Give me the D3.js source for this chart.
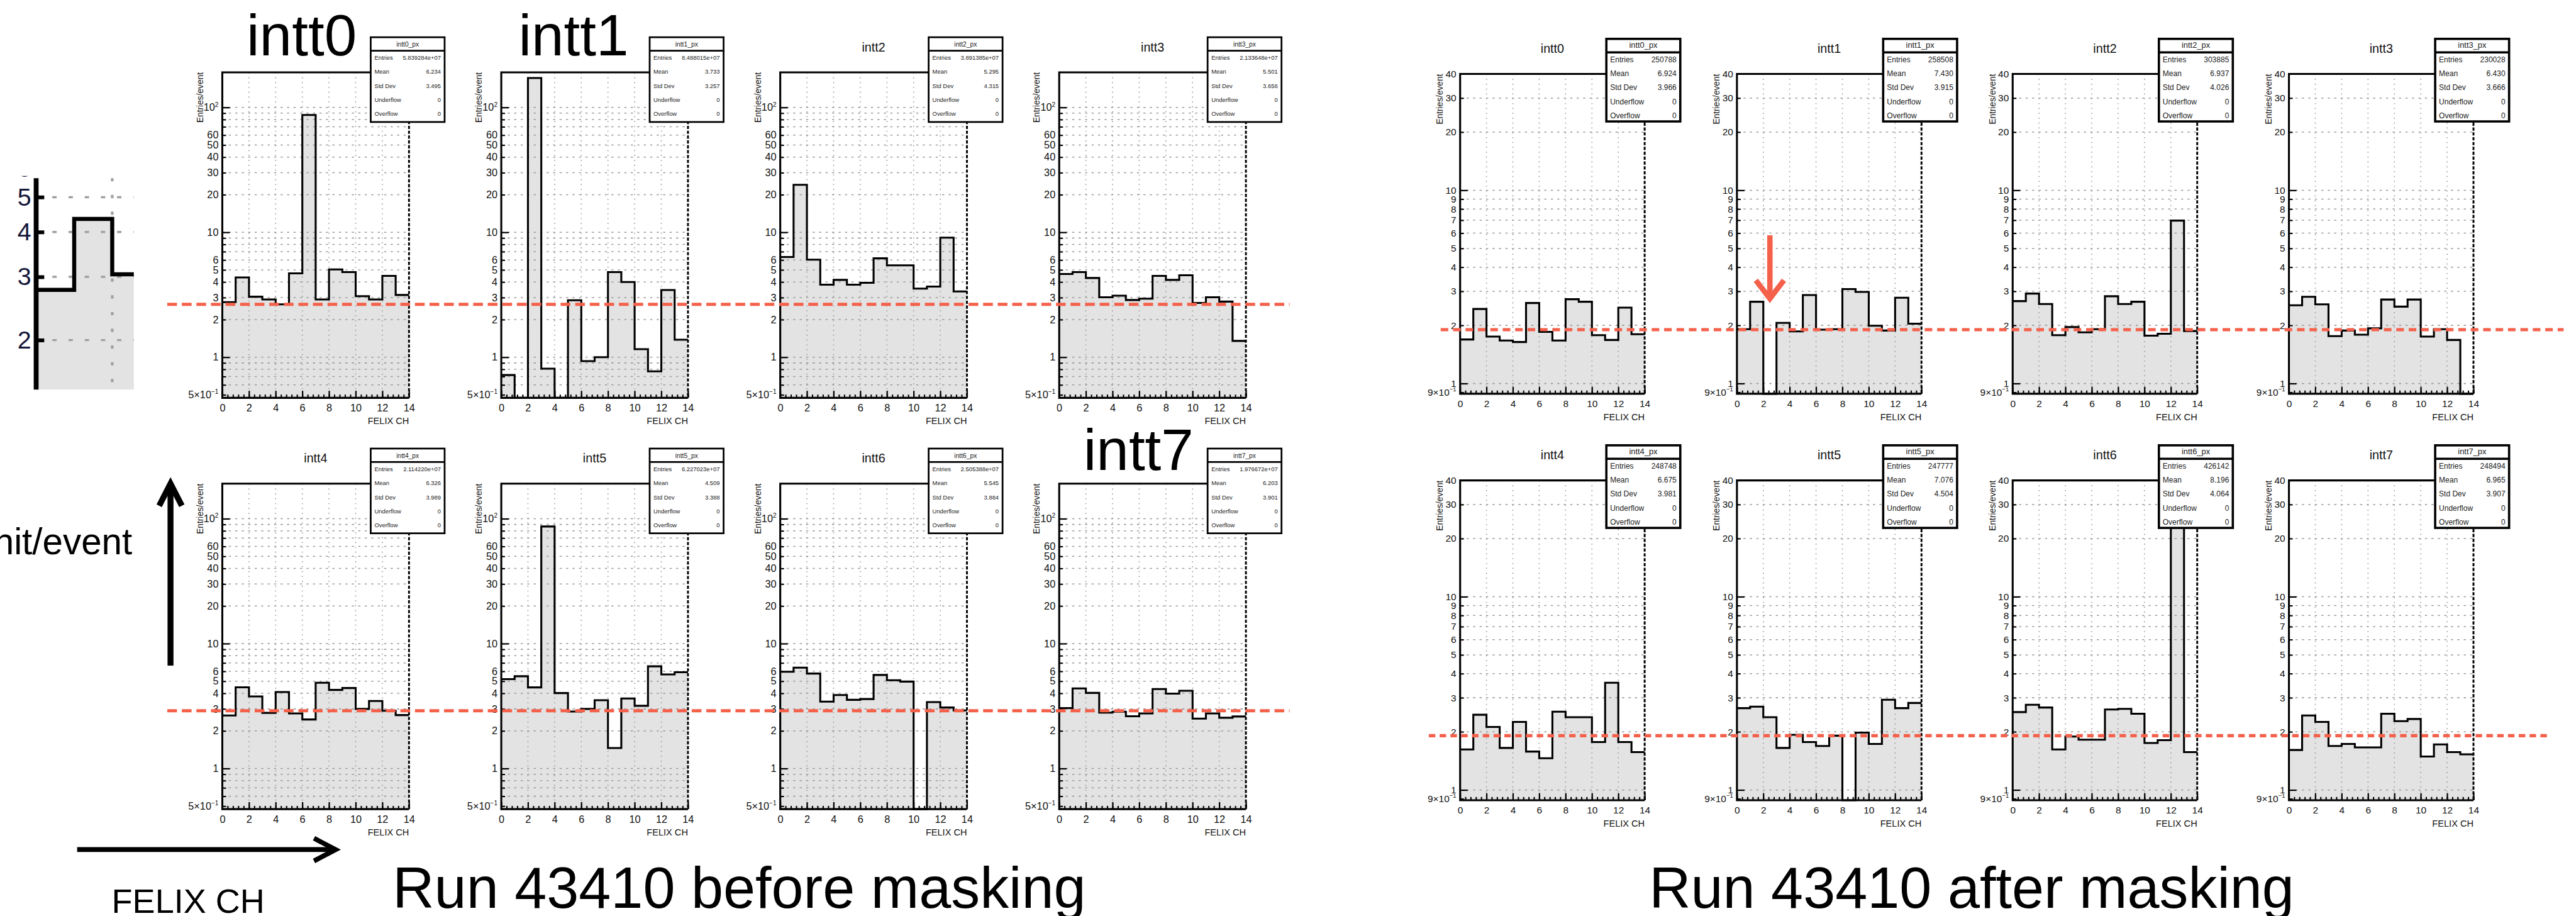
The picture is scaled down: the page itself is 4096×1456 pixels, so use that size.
<!DOCTYPE html>
<html>
<head>
<meta charset="utf-8">
<script src="https://cdn.jsdelivr.net/npm/d3@7"></script>
<style>
  html, body { margin: 0; padding: 0; background: #fff; overflow: hidden; }
  svg { display: block; }
  text { font-family: "Liberation Sans", Arial, Helvetica, sans-serif; }
</style>
</head>
<body>
<svg id="chart"></svg>
<script>
// hits per event in each FELIX channel (bins 0..13)
const sensors = ["intt0", "intt1", "intt2", "intt3", "intt4", "intt5", "intt6", "intt7"];
const channelTicks = [0, 2, 4, 6, 8, 10, 12, 14];
const statLabels = ["Entries", "Mean", "Std Dev", "Underflow", "Overflow"];

const beforeMasking = [
  [2.76, 4.35, 3.05, 2.90, 2.65, 4.69, 87, 2.90, 5.05, 4.80, 3.08, 2.90, 4.48, 3.15],
  [0.72, 0, 172, 0.81, 0, 2.86, 0.93, 1.00, 4.80, 4.00, 1.16, 0.77, 3.45, 1.38],
  [6.34, 24, 6.04, 3.81, 4.16, 3.81, 3.94, 6.19, 5.44, 5.44, 3.54, 3.68, 9.06, 3.36],
  [4.64, 4.80, 4.31, 3.02, 3.11, 2.87, 2.94, 4.48, 4.16, 4.53, 2.72, 3.02, 2.79, 1.35],
  [2.66, 4.47, 3.78, 2.79, 4.10, 2.76, 2.47, 4.86, 4.26, 4.41, 3.00, 3.47, 2.90, 2.68],
  [5.20, 5.48, 4.46, 86.7, 4.02, 2.86, 3.00, 3.52, 1.46, 3.64, 3.18, 6.58, 5.67, 5.90],
  [5.96, 6.42, 5.76, 3.43, 3.88, 3.55, 3.60, 5.61, 5.09, 4.97, 0, 3.40, 3.08, 2.92],
  [3.05, 4.38, 4.03, 2.80, 2.85, 2.62, 2.76, 4.33, 3.98, 4.19, 2.51, 2.76, 2.55, 2.61]
];
const afterMasking = [
  [1.69, 2.43, 1.75, 1.67, 1.64, 2.61, 1.85, 1.67, 2.73, 2.65, 1.78, 1.68, 2.47, 1.80],
  [1.91, 2.65, 0, 2.06, 1.86, 2.87, 1.90, 1.91, 3.08, 2.98, 1.99, 1.88, 2.78, 2.04],
  [2.67, 2.92, 2.58, 1.78, 1.96, 1.84, 1.91, 2.83, 2.58, 2.65, 1.77, 1.81, 6.97, 1.87],
  [2.54, 2.81, 2.57, 1.76, 1.88, 1.79, 1.93, 2.72, 2.50, 2.72, 1.75, 1.91, 1.68, 0],
  [1.62, 2.45, 2.12, 1.65, 2.25, 1.58, 1.46, 2.54, 2.38, 2.38, 1.77, 3.59, 1.77, 1.57],
  [2.65, 2.70, 2.38, 1.65, 1.93, 1.77, 1.69, 1.91, 0, 1.98, 1.73, 2.93, 2.65, 2.82],
  [2.53, 2.76, 2.67, 1.62, 1.89, 1.82, 1.82, 2.61, 2.63, 2.48, 1.75, 1.81, 60, 1.57],
  [1.61, 2.43, 2.25, 1.69, 1.73, 1.66, 1.66, 2.48, 2.27, 2.33, 1.49, 1.72, 1.57, 1.53]
];

// stats box contents
const beforeEntries = ["5.839284e+07", "8.488015e+07", "3.891385e+07", "2.133648e+07", "2.114220e+07", "6.227023e+07", "2.505388e+07", "1.976672e+07"];
const beforeMean = ["6.234", "3.733", "5.295", "5.501", "6.326", "4.509", "5.545", "6.203"];
const beforeStd = ["3.495", "3.257", "4.315", "3.656", "3.989", "3.388", "3.884", "3.901"];
const afterEntries = ["250788", "258508", "303885", "230028", "248748", "247777", "426142", "248494"];
const afterMean = ["6.924", "7.430", "6.937", "6.430", "6.675", "7.076", "8.196", "6.965"];
const afterStd = ["3.966", "3.915", "4.026", "3.666", "3.981", "4.504", "4.064", "3.907"];

// red dashed reference level, one per row
const beforeThreshold = [2.65, 2.9];
const afterThreshold = [1.9, 1.91];
// red arrow marking the masked channel
const maskedSensor = 1, maskedBin = 2, arrowFrom = 5.85, arrowTo = 2.68;

// log axis ticks
const beforeMajorY = [1, 10, 100];
const beforeMinorY = [0.5, 0.6, 0.7, 0.8, 0.9, 2, 3, 4, 5, 6, 7, 8, 9, 20, 30, 40, 50, 60, 70, 80, 90];
const beforeLabelY = [0.5, 1, 2, 3, 4, 5, 6, 10, 20, 30, 40, 50, 60, 100];
const afterMajorY = [1, 10];
const afterMinorY = [0.9, 2, 3, 4, 5, 6, 7, 8, 9, 20, 30, 40];
const afterLabelY = [0.9, 1, 2, 3, 4, 5, 6, 7, 8, 9, 10, 20, 30, 40];
const insetTicks = [2, 3, 4, 5, 6];

const W = 4774, H = 1697;
const svg = d3.select("#chart")
  .attr("width", 4096).attr("height", 1456)
  .attr("viewBox", `0 0 ${W} ${H}`);
const font = "'Liberation Sans', Arial, Helvetica, sans-serif";
const red = "#f4604a";

const base = svg.append("g");
const boxes = svg.append("g");
const overlay = svg.append("g");

function logLabel(v) {
  if (v === 100) return "10^2";
  if (v === 0.5) return "5\u00d710^-1";
  if (v === 0.9) return "9\u00d710^-1";
  return String(v);
}

function drawPanel(cfg) {
  const x = d3.scaleLinear([0, 14], [cfg.left, cfg.left + cfg.width]);
  const y = d3.scaleLog(cfg.domain, [cfg.top + cfg.height, cfg.top]).clamp(true);
  const y0 = y(cfg.domain[0]);
  const yv = v => v > 0 ? y(v) : y0;
  const g = base.append("g");

  const pts = cfg.values.map((v, i) => [i, v]).concat([[14, cfg.values[13]]]);
  g.append("path")
    .attr("d", d3.area().x(d => x(d[0])).y0(y0).y1(d => yv(d[1])).curve(d3.curveStepAfter)(pts))
    .attr("fill", "#e3e3e3");

  // dotted grid
  g.append("g").selectAll("line").data([2, 4, 6, 8, 10, 12]).join("line")
    .attr("x1", d => x(d)).attr("x2", d => x(d))
    .attr("y1", cfg.top).attr("y2", y0)
    .attr("stroke", "#9a9a9a").attr("stroke-width", 1.8).attr("stroke-dasharray", "2,7");
  g.append("g").selectAll("line").data(cfg.grid).join("line")
    .attr("x1", x(0)).attr("x2", x(14))
    .attr("y1", d => y(d)).attr("y2", d => y(d))
    .attr("stroke", "#9a9a9a").attr("stroke-width", 1.8).attr("stroke-dasharray", "4,8");

  g.append("path")
    .attr("d", d3.line().x(d => x(d[0])).y(d => yv(d[1])).curve(d3.curveStepAfter)(pts))
    .attr("fill", "none").attr("stroke", "#000").attr("stroke-width", 3.6);

  // x axis, ticks pointing into the frame
  g.append("g").attr("transform", `translate(0,${y0})`)
    .call(d3.axisBottom(x).tickValues(d3.range(36).map(i => i * 0.4)).tickSize(-6).tickFormat(""))
    .call(a => a.select(".domain").remove())
    .selectAll("line").attr("stroke-width", 2.4);
  g.append("g").attr("transform", `translate(0,${y0})`)
    .call(d3.axisBottom(x).tickValues(channelTicks).tickSize(-13).tickPadding(12))
    .call(a => a.select(".domain").remove())
    .attr("font-family", font).attr("font-size", cfg.tickFont)
    .call(a => a.selectAll("line").attr("stroke-width", 2.6))
    .call(a => a.selectAll("text").attr("fill", "#111"));

  // y axis (log)
  g.append("g").attr("transform", `translate(${x(0)},0)`)
    .call(d3.axisLeft(y).tickValues(cfg.minorY).tickSize(-7).tickFormat(""))
    .call(a => a.select(".domain").remove())
    .selectAll("line").attr("stroke-width", 2.4);
  g.append("g").attr("transform", `translate(${x(0)},0)`)
    .call(d3.axisLeft(y).tickValues(cfg.majorY).tickSize(-14).tickFormat(""))
    .call(a => a.select(".domain").remove())
    .selectAll("line").attr("stroke-width", 2.6);
  g.append("g").attr("transform", `translate(${x(0)},0)`)
    .call(d3.axisLeft(y).tickValues(cfg.labelY).tickSize(0).tickPadding(7).tickFormat(logLabel))
    .call(a => a.select(".domain").remove())
    .attr("font-family", font).attr("font-size", cfg.tickFont)
    .selectAll("text").attr("fill", "#111").each(function (d) {
      const s = logLabel(d);
      if (s.includes("^")) {
        const [b, e] = s.split("^");
        const t = d3.select(this).text(b);
        t.append("tspan").attr("dy", -8).attr("font-size", cfg.tickFont * 0.62).text(e.replace("-", "\u2212"));
      }
    });

  // frame: right edge dashed as in the ROOT canvas
  g.append("path")
    .attr("d", `M${x(14)},${cfg.top}H${x(0)}V${y0}H${x(14)}`)
    .attr("fill", "none").attr("stroke", "#000").attr("stroke-width", 3.6);
  g.append("line")
    .attr("x1", x(14)).attr("x2", x(14)).attr("y1", cfg.top).attr("y2", y0)
    .attr("stroke", "#000").attr("stroke-width", 3.4).attr("stroke-dasharray", "6,3");

  g.append("text")
    .attr("transform", `translate(${x(0) - cfg.yTitleGap},${cfg.top}) rotate(-90)`)
    .attr("text-anchor", "end").attr("font-size", 16).attr("fill", "#111")
    .text("Entries/event");
  g.append("text")
    .attr("x", x(14)).attr("y", y0 + 49)
    .attr("text-anchor", "end").attr("font-size", 17).attr("fill", "#111")
    .text("FELIX CH");
  if (cfg.smallTitle) {
    g.append("text")
      .attr("x", (x(0) + x(14)) / 2).attr("y", cfg.top - 39)
      .attr("text-anchor", "middle").attr("font-size", 23).attr("fill", "#111")
      .text(cfg.name);
  }

  // stats box
  const bx = x(14) - 71, bw = 137, by = cfg.top - 65, bh = cfg.boxH;
  const sb = boxes.append("g");
  sb.append("rect").attr("x", bx).attr("y", by).attr("width", bw).attr("height", bh)
    .attr("fill", "#fff").attr("stroke", "#000").attr("stroke-width", cfg.boxStroke);
  sb.append("line").attr("x1", bx).attr("x2", bx + bw).attr("y1", by + 25).attr("y2", by + 25)
    .attr("stroke", "#000").attr("stroke-width", cfg.boxStroke);
  sb.append("text").attr("x", bx + bw / 2).attr("y", by + 17)
    .attr("text-anchor", "middle").attr("font-size", cfg.statFont + 1).attr("fill", "#222")
    .text(cfg.name + "_px");
  const vals = [cfg.entries, cfg.mean, cfg.std, "0", "0"];
  statLabels.forEach((lab, i) => {
    const ty = by + 38 + i * 26 + cfg.statFont * 0.35;
    sb.append("text").attr("x", bx + 7).attr("y", ty)
      .attr("font-size", cfg.statFont).attr("fill", "#222").text(lab);
    sb.append("text").attr("x", bx + bw - 7).attr("y", ty).attr("text-anchor", "end")
      .attr("font-size", cfg.statFont).attr("fill", "#222").text(vals[i]);
  });

  return { x, y };
}

function drawThreshold(y, level, x1, x2, dash) {
  overlay.append("line")
    .attr("x1", x1).attr("x2", x2).attr("y1", y(level)).attr("y2", y(level))
    .attr("stroke", red).attr("stroke-width", 6).attr("stroke-dasharray", dash);
}

// ---- before masking (left half) ----
const beforeCols = [412, 929, 1446, 1963], beforeRows = [134, 896];
const bigLabel = { 0: true, 1: true, 7: true };
const beforeScales = sensors.map((name, i) => drawPanel({
  name, values: beforeMasking[i],
  left: beforeCols[i % 4], top: beforeRows[Math.floor(i / 4)], width: 346, height: 603,
  domain: [0.473, 191], grid: beforeMinorY.concat(beforeMajorY).filter(v => v > 0.5),
  minorY: beforeMinorY, majorY: beforeMajorY, labelY: beforeLabelY,
  tickFont: 19, yTitleGap: 36, smallTitle: !bigLabel[i],
  entries: beforeEntries[i], mean: beforeMean[i], std: beforeStd[i],
  boxH: 157, boxStroke: 3.2, statFont: 11
}));
drawThreshold(beforeScales[0].y, beforeThreshold[0], 310, 2390, "18,9");
drawThreshold(beforeScales[4].y, beforeThreshold[1], 310, 2390, "18,9");

// ---- after masking (right half) ----
const afterCols = [2706, 3219, 3730, 4242], afterRows = [137, 890];
const afterScales = sensors.map((name, i) => drawPanel({
  name, values: afterMasking[i],
  left: afterCols[i % 4], top: afterRows[Math.floor(i / 4)], width: 342, height: 592.5,
  domain: [0.885, 40], grid: afterMinorY.concat(afterMajorY).filter(v => v > 0.9 && v < 40),
  minorY: afterMinorY, majorY: afterMajorY, labelY: afterLabelY,
  tickFont: 18, yTitleGap: 32, smallTitle: true,
  entries: afterEntries[i], mean: afterMean[i], std: afterStd[i],
  boxH: 153, boxStroke: 4.2, statFont: 14
}));
drawThreshold(afterScales[0].y, afterThreshold[0], 2670, 4751, "14,9");
drawThreshold(afterScales[4].y, afterThreshold[1], 2648, 4728, "12,8");

// red arrow on the masked channel
{
  const s = afterScales[maskedSensor];
  const ax = s.x(maskedBin + 0.5), top = s.y(arrowFrom), tip = s.y(arrowTo);
  overlay.append("line").attr("x1", ax).attr("x2", ax).attr("y1", top).attr("y2", tip - 4)
    .attr("stroke", red).attr("stroke-width", 10);
  overlay.append("path")
    .attr("d", `M${ax - 26},${tip - 38}L${ax},${tip - 4}L${ax + 26},${tip - 38}`)
    .attr("fill", "none").attr("stroke", red).attr("stroke-width", 10);
}

// ---- zoomed inset of intt0, channels 0-2 ----
{
  const clip = svg.append("clipPath").attr("id", "insetClip");
  clip.append("rect").attr("x", 0).attr("y", 326).attr("width", 248).attr("height", 396);
  const g = overlay.append("g").attr("clip-path", "url(#insetClip)");
  const ix = d3.scaleLinear([0, 1], [67, 137.5]);
  const iy = d3.scaleLog([1.455, 5.65], [722, 330]);
  const pts = beforeMasking[0].slice(0, 4).map((v, i) => [i, v]);
  g.append("path")
    .attr("d", d3.area().x(d => ix(d[0])).y0(722).y1(d => iy(d[1])).curve(d3.curveStepAfter)(pts))
    .attr("fill", "#e3e3e3");
  g.append("g").selectAll("line").data([2, 3, 4, 5]).join("line")
    .attr("x1", ix(0)).attr("x2", 248).attr("y1", d => iy(d)).attr("y2", d => iy(d))
    .attr("stroke", "#a0a0a0").attr("stroke-width", 4).attr("stroke-dasharray", "8,22");
  g.append("line").attr("x1", ix(2)).attr("x2", ix(2)).attr("y1", 330).attr("y2", 722)
    .attr("stroke", "#a0a0a0").attr("stroke-width", 5).attr("stroke-dasharray", "6,25");
  g.append("path")
    .attr("d", d3.line().x(d => ix(d[0])).y(d => iy(d[1])).curve(d3.curveStepAfter)(pts))
    .attr("fill", "none").attr("stroke", "#000").attr("stroke-width", 7.5);
  g.append("g").attr("transform", `translate(${ix(0)},0)`)
    .call(d3.axisLeft(iy).tickValues(insetTicks).tickSize(-15).tickPadding(10).tickFormat(d3.format("d")))
    .call(a => a.select(".domain").remove())
    .attr("font-family", font).attr("font-size", 46)
    .call(a => a.selectAll("line").attr("stroke-width", 7))
    .call(a => a.selectAll("text").attr("fill", "#14163a").attr("x", -22).attr("text-anchor", "middle"));
  g.append("line").attr("x1", ix(0)).attr("x2", ix(0)).attr("y1", 330).attr("y2", 722)
    .attr("stroke", "#000").attr("stroke-width", 9);
}

// ---- slide annotations ----
overlay.append("line").attr("x1", 316).attr("x2", 316).attr("y1", 1233).attr("y2", 897)
  .attr("stroke", "#000").attr("stroke-width", 11);
overlay.append("path").attr("d", "M295,937L316,896L337,937")
  .attr("fill", "none").attr("stroke", "#000").attr("stroke-width", 11);
overlay.append("line").attr("x1", 143).attr("x2", 620).attr("y1", 1574).attr("y2", 1574)
  .attr("stroke", "#000").attr("stroke-width", 9);
overlay.append("path").attr("d", "M582,1553L622,1574L582,1595")
  .attr("fill", "none").attr("stroke", "#000").attr("stroke-width", 9);

const big = [
  { t: "intt0", x: 559, y: 102 },
  { t: "intt1", x: 1063, y: 102 },
  { t: "intt7", x: 2110, y: 871 }
];
overlay.selectAll(".big").data(big).join("text")
  .attr("x", d => d.x).attr("y", d => d.y).attr("text-anchor", "middle")
  .attr("font-size", 108).attr("fill", "#000").text(d => d.t);

overlay.append("text").attr("x", -12).attr("y", 1027).attr("font-size", 68).attr("fill", "#000").text("hit/event");
overlay.append("text").attr("x", 207).attr("y", 1691).attr("font-size", 63).attr("fill", "#000").text("FELIX CH");
overlay.append("text").attr("x", 1370).attr("y", 1682).attr("text-anchor", "middle")
  .attr("font-size", 107).attr("fill", "#000").text("Run 43410 before masking");
overlay.append("text").attr("x", 3654).attr("y", 1682).attr("text-anchor", "middle")
  .attr("font-size", 107).attr("fill", "#000").text("Run 43410 after masking");
</script>
</body>
</html>
